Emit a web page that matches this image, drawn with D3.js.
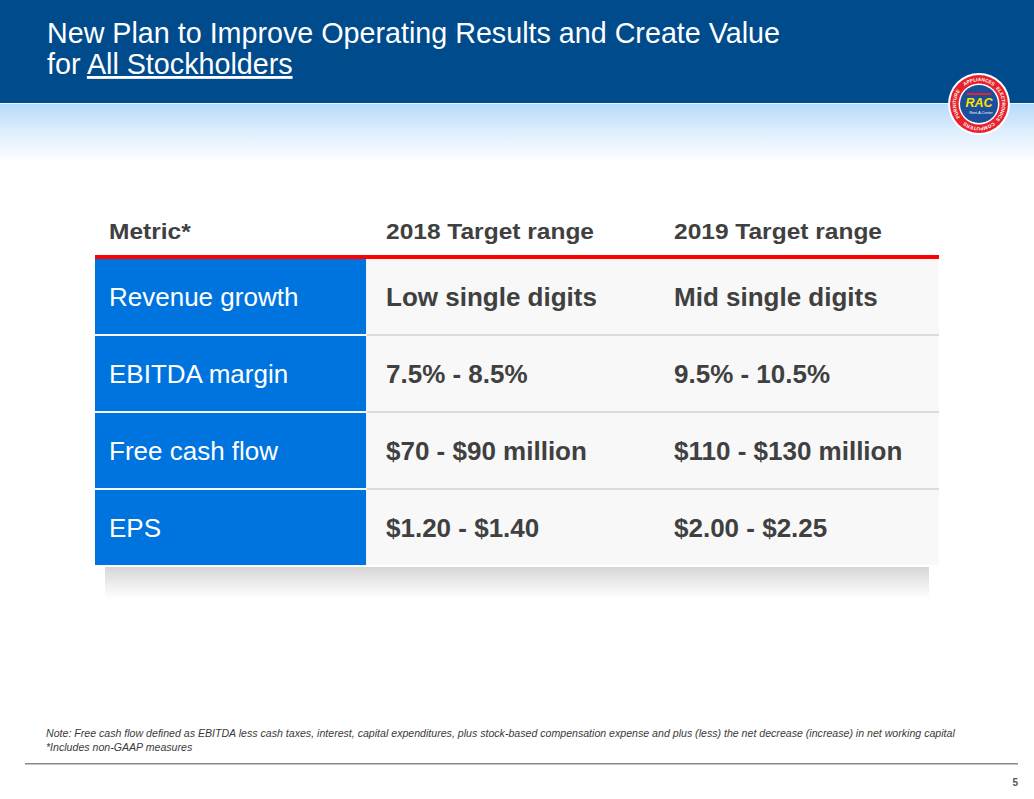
<!DOCTYPE html>
<html>
<head>
<meta charset="utf-8">
<script src="https://cdn.jsdelivr.net/npm/d3@7"></script>
<style>
  html, body { margin: 0; padding: 0; background: #fff; }
  svg { display: block; font-family: "Liberation Sans", Arial, Helvetica, sans-serif; }
</style>
</head>
<body>
<svg id="chart" width="1034" height="799"></svg>
<script>
// ---- data ----
const titleLine1 = "New Plan to Improve Operating Results and Create Value";
const titlePrefix2 = "for ";
const titleUnderlined2 = "All Stockholders";
const columnHeaders = ["Metric*", "2018 Target range", "2019 Target range"];
const metrics = ["Revenue growth", "EBITDA margin", "Free cash flow", "EPS"];
const targets2018 = ["Low single digits", "7.5% - 8.5%", "$70 - $90 million", "$1.20 - $1.40"];
const targets2019 = ["Mid single digits", "9.5% - 10.5%", "$110 - $130 million", "$2.00 - $2.25"];
const notes = [
  "Note: Free cash flow defined as EBITDA less cash taxes, interest, capital expenditures, plus stock-based compensation expense and plus (less) the net decrease (increase) in net working capital",
  "*Includes non-GAAP measures"
];
const logoRingWords = ["APPLIANCES", "ELECTRONICS", "COMPUTERS", "FURNITURE"];
const pageNumber = "5";

// ---- drawing ----
const W = 1034, H = 799;
const svg = d3.select("#chart");
const defs = svg.append("defs");

const g1 = defs.append("linearGradient").attr("id", "skyGrad").attr("x1", 0).attr("y1", 0).attr("x2", 0).attr("y2", 1);
g1.append("stop").attr("offset", "0%").attr("stop-color", "#b6dafb");
g1.append("stop").attr("offset", "45%").attr("stop-color", "#dcedfd");
g1.append("stop").attr("offset", "100%").attr("stop-color", "#ffffff");

const g2 = defs.append("linearGradient").attr("id", "shadowGrad").attr("x1", 0).attr("y1", 0).attr("x2", 0).attr("y2", 1);
g2.append("stop").attr("offset", "0%").attr("stop-color", "#d6d6d6");
g2.append("stop").attr("offset", "55%").attr("stop-color", "#eeeeee");
g2.append("stop").attr("offset", "100%").attr("stop-color", "#ffffff");

// header band
svg.append("rect").attr("x", 0).attr("y", 0).attr("width", W).attr("height", 103).attr("fill", "#004b8c");
svg.append("rect").attr("x", 0).attr("y", 103).attr("width", W).attr("height", 1).attr("fill", "#e8f2fc");
svg.append("rect").attr("x", 0).attr("y", 104).attr("width", W).attr("height", 58).attr("fill", "url(#skyGrad)");

// title
const title = svg.append("g").attr("fill", "#ffffff").style("font-size", "28.7px");
title.append("text").attr("x", 47).attr("y", 43).text(titleLine1);
const t2 = title.append("text").attr("x", 47).attr("y", 74);
t2.append("tspan").text(titlePrefix2);
t2.append("tspan").attr("text-decoration", "underline").text(titleUnderlined2);

// logo
const logo = svg.append("g").attr("transform", "translate(979,104)");
logo.append("circle").attr("r", 31).attr("fill", "#ffffff");
logo.append("circle").attr("r", 29).attr("fill", "#e8222b");
logo.append("circle").attr("r", 20.5).attr("fill", "#ffffff");
logo.append("circle").attr("r", 19).attr("fill", "#1a4f9c");
logo.append("rect").attr("x", -12).attr("y", -11).attr("width", 24).attr("height", 2).attr("fill", "#e8222b");
logo.append("text").attr("x", 0).attr("y", 3).attr("text-anchor", "middle")
  .style("font-size", "12.5px").style("font-weight", "bold").style("font-style", "italic")
  .attr("fill", "#ffe000").text("RAC");
logo.append("text").attr("x", 2).attr("y", 9.5).attr("text-anchor", "middle")
  .style("font-size", "3.6px").attr("fill", "#ffffff").text("Rent-A-Center");
// ring words: one arc per quarter, centred on top / right / bottom / left
const ringR = 23;
const centres = [-90, 0, 90, 180];
logoRingWords.forEach((w, i) => {
  const a0 = (centres[i] - 42) * Math.PI / 180, a1 = (centres[i] + 42) * Math.PI / 180;
  const p = `M ${ringR * Math.cos(a0)},${ringR * Math.sin(a0)} A ${ringR},${ringR} 0 0,1 ${ringR * Math.cos(a1)},${ringR * Math.sin(a1)}`;
  defs.append("path").attr("id", "ring" + i).attr("d", p);
  logo.append("text").style("font-size", "4.8px").style("font-weight", "bold").attr("fill", "#ffffff")
    .append("textPath").attr("href", "#ring" + i).attr("startOffset", "50%").attr("text-anchor", "middle").text(w);
});

// table
const tableLeft = 95, splitX = 366, tableRight = 939;
const rowScale = d3.scaleBand().domain(metrics).range([259, 565]).paddingInner(0.026).paddingOuter(0);
const colX = d3.scaleOrdinal().domain(columnHeaders).range([109, 386, 674]);

// shadow below table
svg.append("rect").attr("x", 105).attr("y", 567).attr("width", 824).attr("height", 32).attr("fill", "url(#shadowGrad)");

// header labels (slightly widened, as in the reference)
svg.append("g").selectAll("text").data(columnHeaders).join("text")
  .attr("transform", d => `translate(${colX(d)},239) scale(1.115,1)`)
  .attr("fill", "#404040").style("font-size", "22px").style("font-weight", "bold")
  .text(d => d);

// red rule
svg.append("rect").attr("x", tableLeft).attr("y", 255).attr("width", tableRight - tableLeft).attr("height", 4).attr("fill", "#ff0000");

// separators background
svg.append("rect").attr("x", tableLeft).attr("y", 259).attr("width", splitX - tableLeft).attr("height", 306).attr("fill", "#f4f8fd");
svg.append("rect").attr("x", splitX).attr("y", 259).attr("width", tableRight - splitX).attr("height", 306).attr("fill", "#dcdcdc");

const rows = svg.append("g").selectAll("g").data(metrics).join("g");
rows.append("rect").attr("x", tableLeft).attr("y", d => rowScale(d)).attr("width", splitX - tableLeft).attr("height", rowScale.bandwidth()).attr("fill", "#0074de");
rows.append("rect").attr("x", splitX + 1).attr("y", d => rowScale(d)).attr("width", tableRight - splitX - 1).attr("height", rowScale.bandwidth()).attr("fill", "#f8f8f8");
svg.append("rect").attr("x", splitX).attr("y", 259).attr("width", 1).attr("height", 306).attr("fill", "#eaf3fc");

const textY = d => rowScale(d) + rowScale.bandwidth() / 2 + 9.5;
rows.append("text").attr("x", colX(columnHeaders[0])).attr("y", textY)
  .attr("fill", "#ffffff").style("font-size", "26px").text(d => d);
rows.append("text").attr("x", colX(columnHeaders[1])).attr("y", textY)
  .attr("fill", "#404040").style("font-size", "26px").style("font-weight", "bold")
  .text((d, i) => targets2018[i]);
rows.append("text").attr("x", colX(columnHeaders[2])).attr("y", textY)
  .attr("fill", "#404040").style("font-size", "26px").style("font-weight", "bold")
  .text((d, i) => targets2019[i]);

// notes
svg.append("g").selectAll("text").data(notes).join("text")
  .attr("x", 46).attr("y", (d, i) => 737 + i * 14)
  .attr("fill", "#3a3a3a").style("font-size", "10.6px").style("font-style", "italic")
  .text(d => d);

// footer rule and page number
svg.append("rect").attr("x", 25).attr("y", 763).attr("width", 993).attr("height", 1.5).attr("fill", "#8a8a8a");
svg.append("text").attr("x", 1018).attr("y", 786).attr("text-anchor", "end")
  .attr("fill", "#555555").style("font-size", "10px").style("font-weight", "bold").text(pageNumber);
</script>
</body>
</html>
